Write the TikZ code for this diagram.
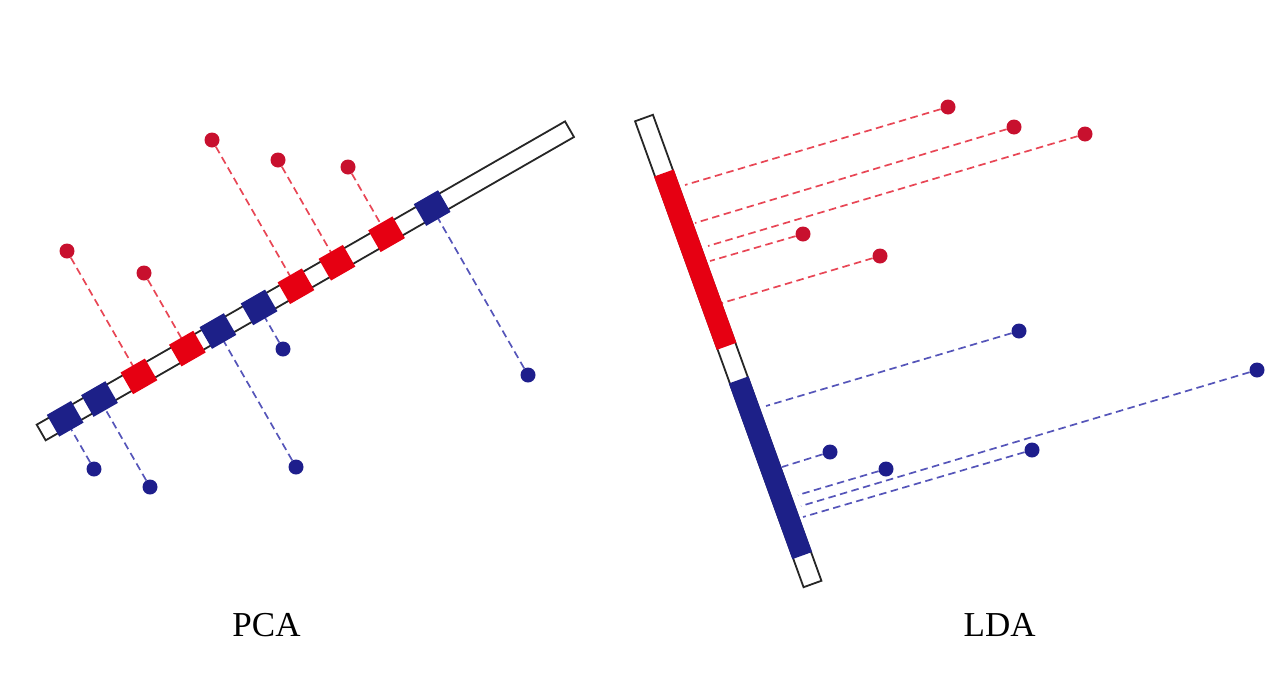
\documentclass[tikz,border=0pt]{standalone}
\usepackage{fontspec}
\setmainfont{Liberation Serif}
\usetikzlibrary{calc}
\definecolor{dotred}{RGB}{200,16,46}
\definecolor{dotblue}{RGB}{30,30,140}
\definecolor{barred}{RGB}{230,0,18}
\definecolor{barblue}{RGB}{29,32,136}
\definecolor{dashred}{RGB}{232,70,85}
\definecolor{dashblue}{RGB}{85,85,185}
\begin{document}
\begin{tikzpicture}[x=1pt,y=-1pt,
  reddot/.style={circle,fill=dotred,inner sep=0pt,minimum size=15pt},
  bluedot/.style={circle,fill=dotblue,inner sep=0pt,minimum size=15pt},
  redproj/.style={draw=dashred,line width=1.7pt,dash pattern=on 7.5pt off 4.5pt},
  blueproj/.style={draw=dashblue,line width=1.7pt,dash pattern=on 7.5pt off 4.5pt},
  axisbar/.style={draw=black!85,fill=white,line width=1.8pt,inner sep=0pt},
  pcared/.style={fill=barred,inner sep=0pt,minimum width=28pt,minimum height=25pt,rotate=29.86},
  pcablue/.style={fill=barblue,inner sep=0pt,minimum width=28pt,minimum height=25pt,rotate=29.86},
  caption/.style={anchor=base,font=\fontsize{35}{40}\selectfont}]
\useasboundingbox (0,0) rectangle (1280,675);

% ---------------- PCA ----------------
\coordinate (pa) at (41.2,432.5);
\coordinate (pb) at (569.5,129.2);

\node[reddot] (r1) at (67,251) {};
\node[reddot] (r2) at (144,273) {};
\node[reddot] (r3) at (212,140) {};
\node[reddot] (r4) at (278,160) {};
\node[reddot] (r5) at (348,167) {};
\node[bluedot] (b1) at (94,469) {};
\node[bluedot] (b2) at (150,487) {};
\node[bluedot] (b3) at (283,349) {};
\node[bluedot] (b4) at (296,467) {};
\node[bluedot] (b5) at (528,375) {};

\foreach \p in {r1,r2,r3,r4,r5} {
  \coordinate (p\p) at ($(pa)!(\p)!(pb)$);
  \draw[redproj] (\p) -- (p\p);
}
\foreach \p in {b1,b2,b3,b4,b5} {
  \coordinate (p\p) at ($(pa)!(\p)!(pb)$);
  \draw[blueproj] (\p) -- (p\p);
}

\node[axisbar,minimum width=609.2pt,minimum height=18pt,rotate=29.86] (pcabar) at ($(pa)!0.5!(pb)$) {};

\foreach \p in {r1,r2,r3,r4,r5} { \node[pcared] (s\p) at (p\p) {}; }
\foreach \p in {b1,b2,b3,b4,b5} { \node[pcablue] (s\p) at (p\p) {}; }

\node[caption] (pcalabel) at (266.5,636.7) {PCA};

% ---------------- LDA ----------------
\coordinate (la) at (644,118);
\coordinate (lb) at (812.5,584);

\node[reddot] (q1) at (948,107) {};
\node[reddot] (q2) at (1014,127) {};
\node[reddot] (q3) at (1085,134) {};
\node[reddot] (q4) at (803,234) {};
\node[reddot] (q5) at (880,256) {};
\node[bluedot] (c1) at (1019,331) {};
\node[bluedot] (c2) at (830,452) {};
\node[bluedot] (c3) at (886,469) {};
\node[bluedot] (c4) at (1257,370) {};
\node[bluedot] (c5) at (1032,450) {};

\coordinate (e1) at (685,185);
\coordinate (e2) at (695,223);
\coordinate (e3) at (708,246);
\coordinate (e4) at (710,261);
\coordinate (e5) at (722,303);
\coordinate (f1) at (766,406);
\coordinate (f2) at (782,467);
\coordinate (f3) at (798,495);
\coordinate (f4) at (801,506);
\coordinate (f5) at (803,517);

\draw[redproj] (q1) -- (e1);
\draw[redproj] (q2) -- (e2);
\draw[redproj] (q3) -- (e3);
\draw[redproj] (q4) -- (e4);
\draw[redproj] (q5) -- (e5);
\draw[blueproj] (c1) -- (f1);
\draw[blueproj] (c2) -- (f2);
\draw[blueproj] (c3) -- (f3);
\draw[blueproj] (c4) -- (f4);
\draw[blueproj] (c5) -- (f5);

\node[axisbar,minimum width=495.5pt,minimum height=19pt,rotate=-70.12] (ldabar) at ($(la)!0.5!(lb)$) {};
\node[fill=barred,inner sep=0pt,minimum width=184.3pt,minimum height=21pt,rotate=-70.12] (ldared) at ($(la)!0.304!(lb)$) {};
\node[fill=barblue,inner sep=0pt,minimum width=186.8pt,minimum height=21pt,rotate=-70.12] (ldablue) at ($(la)!0.7505!(lb)$) {};

\node[caption] (ldalabel) at (999.7,636.7) {LDA};
\end{tikzpicture}
\end{document}
